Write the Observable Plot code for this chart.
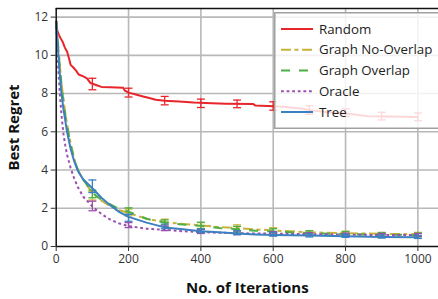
<!DOCTYPE html>
<html><head><meta charset="utf-8">
<script src="https://cdn.jsdelivr.net/npm/d3@7"></script>
<script src="https://cdn.jsdelivr.net/npm/@observablehq/plot@0.6"></script>
<style>
body{margin:0;background:#fff;font-family:"Open Sans",sans-serif}
#wrap{position:relative;width:438px;height:299px;overflow:hidden}
#legend{position:absolute;left:274px;top:12px}
#chart svg [aria-label="x-axis label"] text,#chart svg [aria-label="y-axis label"] text{font-weight:bold;font-size:15px;fill:#111}
</style></head><body>
<div id="wrap"><div id="chart"></div><div id="legend"></div></div>
<script>
const seriesNames = ["Random","Graph No-Overlap","Graph Overlap","Oracle","Tree"];
const seriesColors = ["#e8252b","#c8b238","#4caf46","#9d4fae","#3b80c0"];
const seriesDash = [null,"10,3.5,4,3.5","9,9","2.8,2.8",null];
const xTicks = [0,200,400,600,800,1000];
const yTicks = [0,2,4,6,8,10,12];

const randomX = [0,3,7,12,18,24,30,36,40,48,55,62,75,85,95,110,125,150,185,190,200,220,240,255,275,300,340,380,430,470,545,550,620,680,700,750,820,860,920,1000];
const randomY = [11.8,11.3,11.1,10.9,10.7,10.4,10.2,9.8,9.5,9.35,9.2,9.0,8.9,8.8,8.55,8.45,8.35,8.33,8.3,8.15,8.05,7.95,7.85,7.78,7.68,7.63,7.58,7.53,7.49,7.47,7.45,7.38,7.32,7.2,7.14,7.02,6.92,6.82,6.8,6.78];

const curveX = [0,5,10,15,20,25,30,40,50,60,75,100,125,150,175,200,250,300,350,400,450,500,550,600,700,800,900,1000];
const noOverlapY = [11.8,10.6,9.5,8.5,7.7,7.0,6.4,5.4,4.6,4.0,3.5,2.8,2.4,2.1,1.9,1.75,1.45,1.28,1.18,1.1,1.02,0.97,0.9,0.84,0.74,0.7,0.66,0.64];
const overlapY   = [11.8,10.5,9.4,8.4,7.6,6.9,6.3,5.3,4.55,4.0,3.5,2.8,2.45,2.2,1.95,1.82,1.45,1.25,1.15,1.08,0.97,0.9,0.83,0.78,0.7,0.65,0.62,0.6];
const oracleY    = [11.8,9.5,8.0,6.8,5.9,5.3,4.8,4.1,3.55,3.1,2.6,2.1,1.7,1.4,1.2,1.07,0.93,0.87,0.8,0.75,0.72,0.7,0.68,0.67,0.65,0.62,0.6,0.6];
const treeY      = [11.8,10.3,9.0,7.9,7.2,6.6,6.0,5.1,4.45,3.95,3.5,3.05,2.55,2.15,1.8,1.55,1.25,1.0,0.9,0.8,0.74,0.68,0.63,0.6,0.57,0.53,0.5,0.48];

const errX = [100,200,300,400,500,600,700,800,900,1000];
const randomErrY = [8.5,8.05,7.63,7.49,7.46,7.35,7.14,7.0,6.82,6.78];
const randomErrE = [0.3,0.23,0.22,0.22,0.2,0.22,0.22,0.2,0.2,0.2];
const noOverlapErrY = [2.65,1.78,1.28,1.1,0.98,0.85,0.72,0.7,0.64,0.64];
const noOverlapErrE = [0.22,0.18,0.15,0.15,0.15,0.13,0.1,0.1,0.1,0.1];
const overlapErrY = [2.75,1.85,1.22,1.1,0.9,0.78,0.7,0.66,0.62,0.6];
const overlapErrE = [0.2,0.17,0.17,0.17,0.15,0.15,0.12,0.12,0.1,0.1];
const oracleErrY = [2.12,1.12,0.95,0.78,0.72,0.68,0.64,0.62,0.6,0.6];
const oracleErrE = [0.25,0.13,0.12,0.1,0.1,0.1,0.08,0.08,0.08,0.08];
const treeErrY = [3.15,1.5,1.05,0.82,0.72,0.64,0.58,0.56,0.52,0.5];
const treeErrE = [0.33,0.18,0.12,0.1,0.1,0.1,0.08,0.08,0.08,0.08];

const lineXs = [randomX, curveX, curveX, curveX, curveX];
const lineYs = [randomY, noOverlapY, overlapY, oracleY, treeY];
const errYs = [randomErrY, noOverlapErrY, overlapErrY, oracleErrY, treeErrY];
const errEs = [randomErrE, noOverlapErrE, overlapErrE, oracleErrE, treeErrE];

const capHalf = 11;
const marks = [
  Plot.gridX(xTicks.slice(1), {stroke:"#b8b8b8", strokeOpacity:1, strokeWidth:1.6}),
  Plot.gridY(yTicks.slice(1), {stroke:"#b8b8b8", strokeOpacity:1, strokeWidth:1.6}),
];
seriesNames.forEach((name,i)=>{
  const rows = lineXs[i].map((x,j)=>({x, y: lineYs[i][j]}));
  const errs = errX.map((x,j)=>({x, y: errYs[i][j], e: errEs[i][j]}));
  marks.push(Plot.line(rows, {x:"x", y:"y", stroke: seriesColors[i], strokeWidth: 2, strokeDasharray: seriesDash[i] || undefined, strokeLinecap:"butt", strokeLinejoin:"round"}));
  marks.push(Plot.ruleX(errs, {x:"x", y1: d=>d.y-d.e, y2: d=>d.y+d.e, stroke: seriesColors[i], strokeWidth: 1.3}));
  marks.push(Plot.link(errs, {x1: d=>d.x-capHalf, x2: d=>d.x+capHalf, y1: d=>d.y-d.e, y2: d=>d.y-d.e, stroke: seriesColors[i], strokeWidth: 1.3}));
  marks.push(Plot.link(errs, {x1: d=>d.x-capHalf, x2: d=>d.x+capHalf, y1: d=>d.y+d.e, y2: d=>d.y+d.e, stroke: seriesColors[i], strokeWidth: 1.3}));
});
marks.push(
  Plot.ruleY([0], {stroke:"#111", strokeWidth:1.5}),
  Plot.ruleY([12.45], {stroke:"#111", strokeWidth:1.5}),
  Plot.ruleX([0], {stroke:"#111", strokeWidth:1.5}),
  Plot.axisX({ticks: xTicks, tickSize:5, tickPadding:3, tickFormat: d=>String(d), label:"No. of Iterations", labelAnchor:"center", labelArrow:"none", labelOffset:46, color:"#333"}),
  Plot.axisY({ticks: yTicks, tickSize:5, tickPadding:3, tickFormat: d=>String(d), label:"Best Regret", labelAnchor:"center", labelArrow:"none", labelOffset:48, color:"#333"})
);

const chart = Plot.plot({
  width: 438, height: 299,
  marginLeft: 55.7, marginRight: 0, marginTop: 8, marginBottom: 53,
  x: {domain:[0,1057]},
  y: {domain:[0,12.45]},
  style: {fontSize:"12px", fontFamily:"'Open Sans', sans-serif", color:"#333", background:"#fff"},
  marks
});
document.getElementById("chart").appendChild(chart);

// legend
const lg = d3.select("#legend").append("svg").attr("width",170).attr("height",118);
lg.append("rect").attr("x",0.75).attr("y",0.75).attr("width",175).attr("height",115.5)
  .attr("fill","rgba(255,255,255,0.82)").attr("stroke","#a0a0a0").attr("stroke-width",1.5);
seriesNames.forEach((name,i)=>{
  const cy = 17 + i*20.75;
  lg.append("line").attr("x1",7).attr("x2",39).attr("y1",cy).attr("y2",cy)
    .attr("stroke",seriesColors[i]).attr("stroke-width",2).attr("stroke-dasharray",seriesDash[i]);
  lg.append("text").attr("x",45).attr("y",cy).attr("dy","0.35em")
    .attr("font-size","13.3px").attr("font-family","'Open Sans', sans-serif").attr("fill","#222").text(name);
});
</script>
</body></html>
